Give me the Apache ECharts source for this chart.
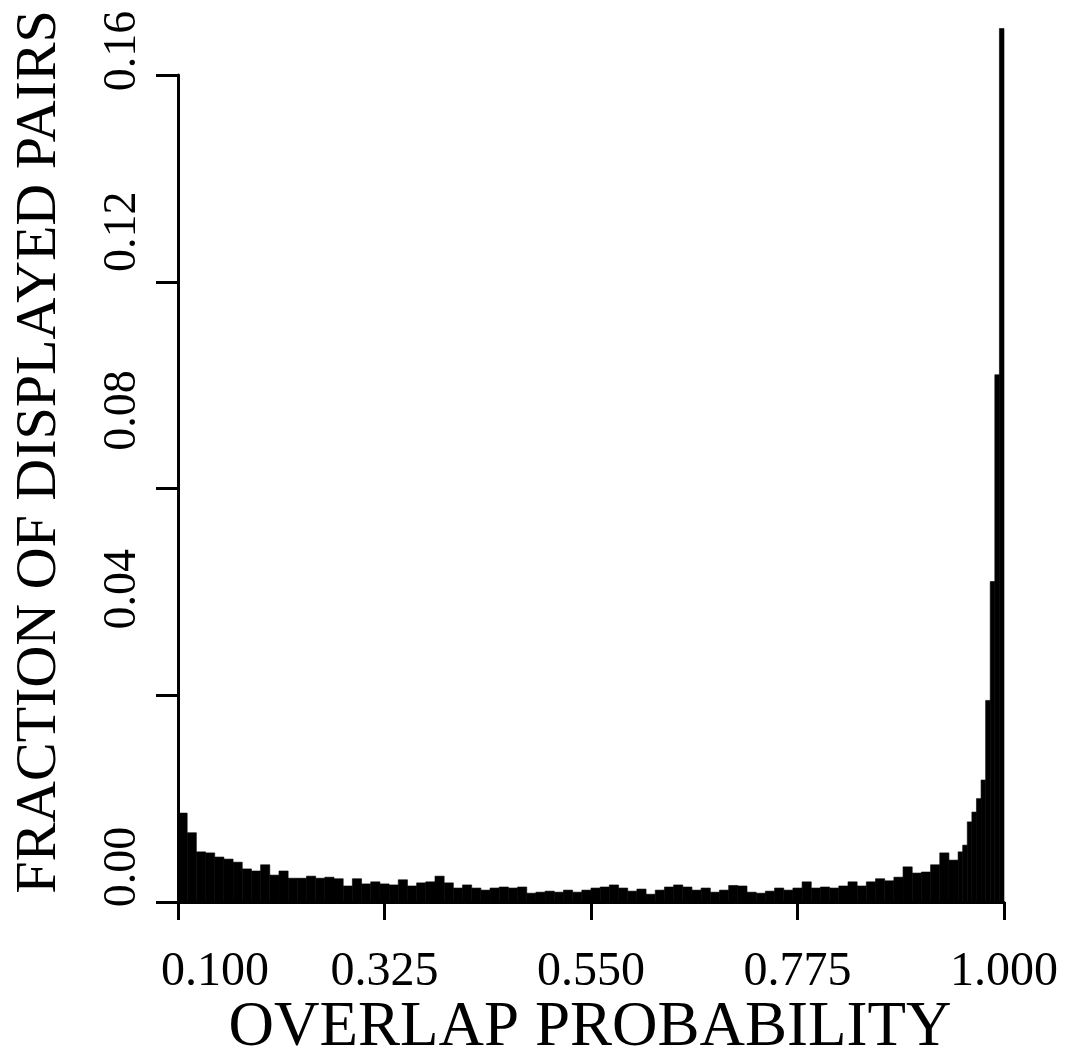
<!DOCTYPE html>
<html>
<head>
<meta charset="utf-8">
<script src="https://cdn.jsdelivr.net/npm/echarts@6/dist/echarts.min.js"></script>
<style>
  html, body { margin: 0; padding: 0; background: #fff; }
  #chart { width: 1080px; height: 1062px; }
</style>
</head>
<body>
<div id="chart"></div>
<script>
// Histogram bin edges (overlap probability)
const binEdges = [
  0.10, 0.11, 0.12, 0.13, 0.14, 0.15, 0.16, 0.17, 0.18, 0.19,
  0.20, 0.21, 0.22, 0.23, 0.24, 0.25, 0.26, 0.27, 0.28, 0.29,
  0.30, 0.31, 0.32, 0.33, 0.34, 0.35, 0.36, 0.37, 0.38, 0.39,
  0.40, 0.41, 0.42, 0.43, 0.44, 0.45, 0.46, 0.47, 0.48, 0.49,
  0.50, 0.51, 0.52, 0.53, 0.54, 0.55, 0.56, 0.57, 0.58, 0.59,
  0.60, 0.61, 0.62, 0.63, 0.64, 0.65, 0.66, 0.67, 0.68, 0.69,
  0.70, 0.71, 0.72, 0.73, 0.74, 0.75, 0.76, 0.77, 0.78, 0.79,
  0.80, 0.81, 0.82, 0.83, 0.84, 0.85, 0.86, 0.87, 0.88, 0.89,
  0.90, 0.91, 0.92, 0.93, 0.94, 0.95,
  0.955, 0.960, 0.965, 0.970, 0.975, 0.980, 0.985, 0.990, 0.995, 1.000
];
// Fraction of displayed pairs in each bin
const fractions = [
  0.0172, 0.0134, 0.0097, 0.0095, 0.0087, 0.0083, 0.0077, 0.0064, 0.0060, 0.0072,
  0.0052, 0.0060, 0.0046, 0.0046, 0.0050, 0.0046, 0.0048, 0.0045, 0.0031, 0.0045,
  0.0035, 0.0039, 0.0035, 0.0033, 0.0043, 0.0031, 0.0037, 0.0039, 0.0050, 0.0037,
  0.0027, 0.0033, 0.0027, 0.0023, 0.0027, 0.0029, 0.0027, 0.0029, 0.0017, 0.0019,
  0.0021, 0.0019, 0.0023, 0.0019, 0.0023, 0.0027, 0.0029, 0.0033, 0.0027, 0.0021,
  0.0025, 0.0015, 0.0023, 0.0029, 0.0033, 0.0029, 0.0023, 0.0027, 0.0019, 0.0023,
  0.0032, 0.0031, 0.0019, 0.0017, 0.0021, 0.0027, 0.0023, 0.0027, 0.0039, 0.0027,
  0.0029, 0.0027, 0.0031, 0.0039, 0.0031, 0.0039, 0.0045, 0.0041, 0.0048, 0.0068,
  0.0056, 0.0058, 0.0072, 0.0095, 0.0081,
  0.0097, 0.0110, 0.0155, 0.0174, 0.0200, 0.0236, 0.0390, 0.0620, 0.1020, 0.1690
];
const xAxisTitle = 'OVERLAP PROBABILITY';
const yAxisTitle = 'FRACTION OF DISPLAYED PAIRS';
const xRange = [0.1, 1.0];
const xStep = 0.225;
const yRange = [0, 0.16];
const yStep = 0.04;

const histData = fractions.map((v, i) => [binEdges[i], binEdges[i + 1], v]);

const serif = '"Liberation Serif", "DejaVu Serif", serif';
// Label shifts (style only): y tick labels in the original sit above their ticks
const yLabelShift = [70, 212, 156, 100, 48];
const yRich = {};
yLabelShift.forEach((p, i) => {
  yRich['l' + i] = { padding: [0, 0, 0, p], color: '#000', fontFamily: serif, fontSize: 46 };
});

const chart = echarts.init(document.getElementById('chart'), null, { renderer: 'canvas' });

chart.setOption({
  backgroundColor: '#ffffff',
  animation: false,
  grid: { left: 178, right: 76, top: 75, bottom: 160, containLabel: false },
  xAxis: {
    type: 'value',
    min: xRange[0], max: xRange[1], interval: xStep,
    axisLine: { show: true, onZero: false, lineStyle: { color: '#000', width: 3 } },
    axisTick: { show: true, inside: false, length: 18, lineStyle: { color: '#000', width: 3 } },
    splitLine: { show: false },
    axisLabel: {
      margin: 46,
      color: '#000',
      fontFamily: serif,
      fontSize: 48,
      formatter: (v, idx) => idx === 0 ? '{f|' + v.toFixed(3) + '}' : v.toFixed(3),
      rich: { f: { padding: [0, 0, 0, 74], color: '#000', fontFamily: serif, fontSize: 48 } }
    }
  },
  yAxis: {
    type: 'value',
    min: yRange[0], max: yRange[1], interval: yStep,
    axisLine: { show: true, lineStyle: { color: '#000', width: 3 } },
    axisTick: { show: true, inside: false, length: 22, lineStyle: { color: '#000', width: 3 } },
    splitLine: { show: false },
    axisLabel: {
      rotate: 90,
      margin: 32,
      color: '#000',
      fontFamily: serif,
      fontSize: 46,
      align: 'center',
      verticalAlign: 'bottom',
      formatter: (v, idx) => '{l' + idx + '|' + v.toFixed(2) + '}',
      rich: yRich
    }
  },
  graphic: [
    {
      type: 'text', x: 40, y: 452, rotation: Math.PI / 2,
      style: { text: yAxisTitle, fill: '#000', fontFamily: serif, fontSize: 58, align: 'center', verticalAlign: 'middle' }
    },
    {
      type: 'text', x: 590, y: 1028,
      style: { text: xAxisTitle, fill: '#000', fontFamily: serif, fontSize: 63, align: 'center', verticalAlign: 'middle' }
    }
  ],
  series: [{
    type: 'custom',
    clip: false,
    data: histData,
    encode: { x: [0, 1], y: 2 },
    renderItem: function (params, api) {
      const x0 = api.value(0), x1 = api.value(1), v = api.value(2);
      const pTop = api.coord([x0, v]);
      const pBot = api.coord([x1, 0]);
      return {
        type: 'rect',
        shape: { x: pTop[0], y: pTop[1], width: pBot[0] - pTop[0], height: pBot[1] - pTop[1] },
        style: { fill: '#000', stroke: '#000', lineWidth: 0.6 }
      };
    }
  }]
});
</script>
</body>
</html>
